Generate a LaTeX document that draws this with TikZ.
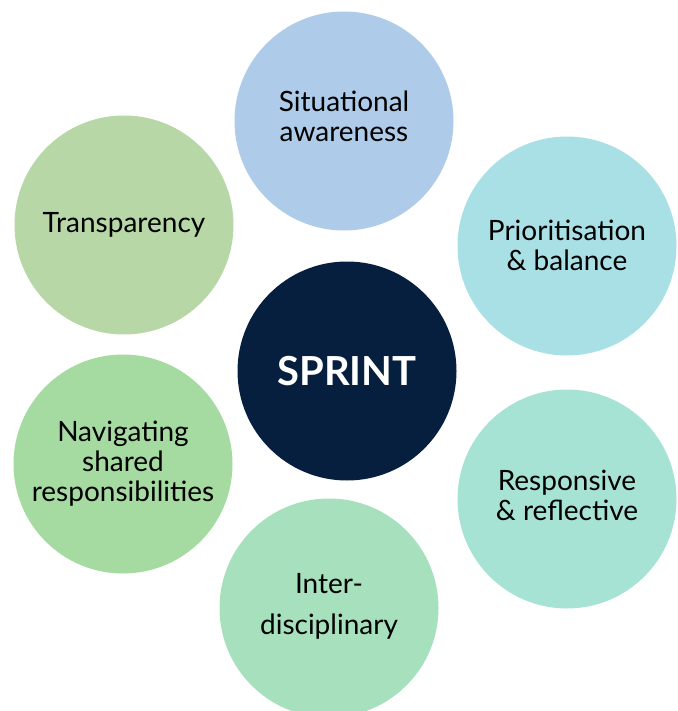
\documentclass[tikz,border=0pt]{standalone}
\usepackage{fontspec}
\setmainfont{Lato}
\definecolor{cSit}{HTML}{AECCE9}
\definecolor{cPri}{HTML}{A9E0E6}
\definecolor{cRes}{HTML}{A6E3D5}
\definecolor{cInt}{HTML}{A6E0BC}
\definecolor{cNav}{HTML}{A5DBA1}
\definecolor{cTra}{HTML}{B7D7A6}
\definecolor{cSpr}{HTML}{061F3F}
\begin{document}
\begin{tikzpicture}[x=1pt,y=-1pt,
  bubble/.style={circle, minimum size=219pt, inner sep=0pt},
  txt/.style={align=center, inner sep=0pt, font=\fontsize{28}{30}\selectfont, text=black}]
\useasboundingbox (0,0) rectangle (677,711);
\node[bubble, fill=cSit] (sit) at (344,121) {};
\node[bubble, fill=cPri] (pri) at (567,246) {};
\node[bubble, fill=cRes] (res) at (567,499) {};
\node[bubble, fill=cInt] (int) at (329,608) {};
\node[bubble, fill=cNav] (nav) at (123,464) {};
\node[bubble, fill=cTra] (tra) at (124,225) {};
\node[bubble, fill=cSpr] (spr) at (347,371) {};
\node[txt] (tsit) at ([yshift=5pt]sit.center) {Situational\\awareness};
\node[txt] (tpri) at ([yshift=1pt]pri.center) {Prioritisation\\\& balance};
\node[txt] (tres) at ([yshift=4pt]res.center) {Responsive\\\& reflective};
\node[txt] (tint) at ([yshift=2pt]int.center) {Inter-\\[11pt]disciplinary};
\node[txt] (tnav) at (nav.center) {Navigating\\shared\\responsibilities};
\node[txt] (ttra) at (tra.center) {Transparency};
\node[txt, text=white, font=\fontsize{40}{44}\selectfont\bfseries] (tspr) at (spr.center) {SPRINT};
\end{tikzpicture}
\end{document}
